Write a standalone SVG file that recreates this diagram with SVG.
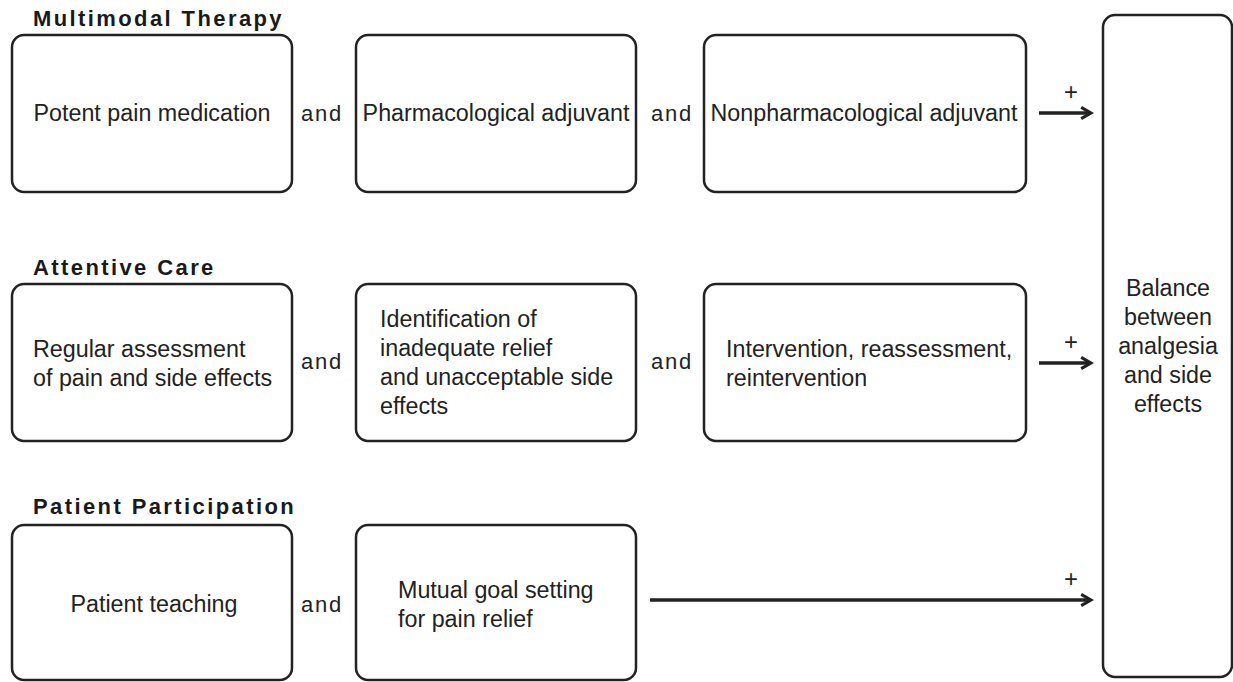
<svg xmlns="http://www.w3.org/2000/svg" width="1233" height="682" viewBox="0 0 1233 682">
<defs>
<style>
.box{fill:#fff;stroke:#222;stroke-width:2.5}
.t{font-family:"Liberation Sans",Arial,sans-serif;font-size:23.3px;fill:#222}
.h{font-family:"Liberation Sans",Arial,sans-serif;font-size:22px;font-weight:bold;fill:#1a1a1a;letter-spacing:2.4px}
.and{font-family:"Liberation Sans",Arial,sans-serif;font-size:22px;fill:#222;letter-spacing:1.8px}
.plus{font-family:"Liberation Sans",Arial,sans-serif;font-size:24px;fill:#222}
.c{stroke:#222;stroke-width:3.5;fill:none}
</style>
<marker id="ah" viewBox="0 0 10 10" refX="8" refY="5" markerWidth="4" markerHeight="4" orient="auto" markerUnits="strokeWidth">
<path d="M1,1 L8,5 L1,9" fill="none" stroke="#222" stroke-width="2.2"/>
</marker>
</defs>
<rect width="1233" height="682" fill="#fff"/>
<text class="h" x="33" y="26">Multimodal Therapy</text>
<text class="h" x="33" y="275">Attentive Care</text>
<text class="h" x="33" y="514">Patient Participation</text>

<g id="n_potent"><rect class="box" x="12" y="35" width="280" height="157" rx="12"/><text class="t" x="152" y="121" text-anchor="middle">Potent pain medication</text></g>
<g id="n_pharm"><rect class="box" x="356" y="35" width="280" height="157" rx="12"/><text class="t" x="496" y="121" text-anchor="middle">Pharmacological adjuvant</text></g>
<g id="n_nonpharm"><rect class="box" x="704" y="35" width="322" height="157" rx="12"/><text class="t" x="864" y="121" text-anchor="middle">Nonpharmacological adjuvant</text></g>

<g id="n_regular"><rect class="box" x="12" y="284" width="280" height="157" rx="12"/><text class="t" x="33" y="357">Regular assessment</text><text class="t" x="33" y="386">of pain and side effects</text></g>
<g id="n_ident"><rect class="box" x="356" y="284" width="280" height="157" rx="12"/><text class="t" x="380" y="327">Identification of</text><text class="t" x="380" y="356">inadequate relief</text><text class="t" x="380" y="385">and unacceptable side</text><text class="t" x="380" y="414">effects</text></g>
<g id="n_interv"><rect class="box" x="704" y="284" width="322" height="157" rx="12"/><text class="t" x="726" y="357">Intervention, reassessment,</text><text class="t" x="726" y="386">reintervention</text></g>

<g id="n_teach"><rect class="box" x="12" y="525" width="280" height="155" rx="12"/><text class="t" x="154" y="612" text-anchor="middle">Patient teaching</text></g>
<g id="n_goal"><rect class="box" x="356" y="525" width="280" height="155" rx="12"/><text class="t" x="398" y="598">Mutual goal setting</text><text class="t" x="398" y="627">for pain relief</text></g>

<g id="n_balance"><rect class="box" x="1103" y="15" width="129" height="662" rx="12"/>
<text class="t" x="1168" y="296" text-anchor="middle">Balance</text>
<text class="t" x="1168" y="325" text-anchor="middle">between</text>
<text class="t" x="1168" y="354" text-anchor="middle">analgesia</text>
<text class="t" x="1168" y="383" text-anchor="middle">and side</text>
<text class="t" x="1168" y="412" text-anchor="middle">effects</text></g>

<g id="and_labels">
<text class="and" x="322" y="121" text-anchor="middle">and</text>
<text class="and" x="672" y="121" text-anchor="middle">and</text>
<text class="and" x="322" y="369" text-anchor="middle">and</text>
<text class="and" x="672" y="369" text-anchor="middle">and</text>
<text class="and" x="322" y="612" text-anchor="middle">and</text>
</g>

<g id="connectors">
<line class="c" x1="1039" y1="113" x2="1091" y2="113" marker-end="url(#ah)"/>
<line class="c" x1="1039" y1="363" x2="1091" y2="363" marker-end="url(#ah)"/>
<line class="c" x1="650" y1="600" x2="1091" y2="600" marker-end="url(#ah)"/>
<text class="plus" x="1071" y="100" text-anchor="middle">+</text>
<text class="plus" x="1071" y="350" text-anchor="middle">+</text>
<text class="plus" x="1071" y="587" text-anchor="middle">+</text>
</g>
</svg>
